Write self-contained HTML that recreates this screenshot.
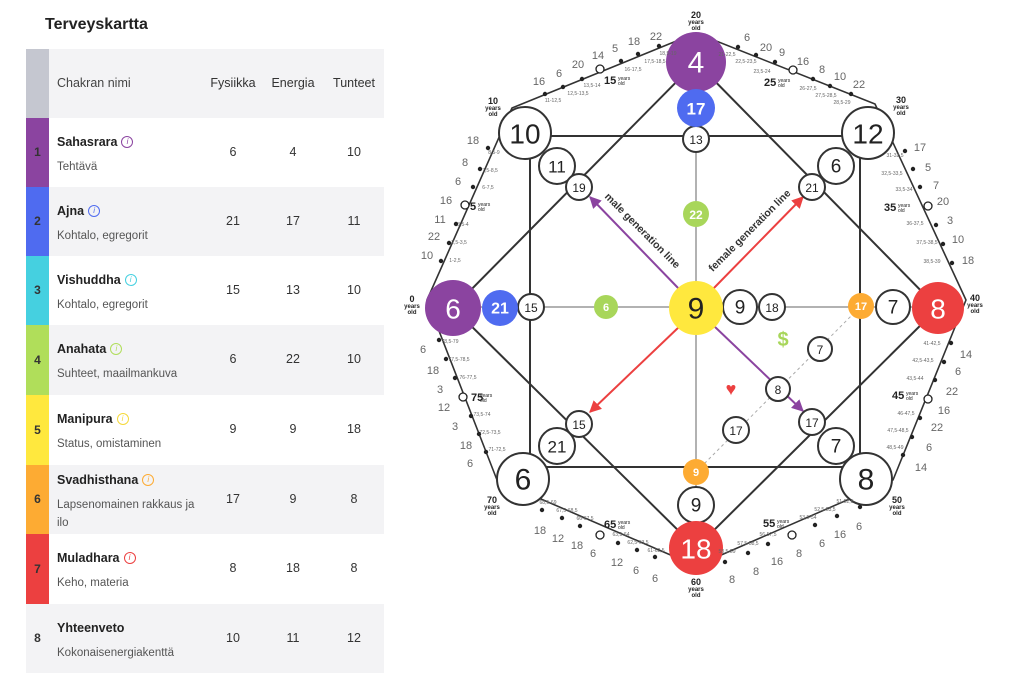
<!DOCTYPE html>
<html><head><meta charset="utf-8">
<style>
body{margin:0;width:1024px;height:682px;background:#fff;font-family:"Liberation Sans",sans-serif;overflow:hidden;position:relative;color:#222}
h1{position:absolute;left:45px;top:16px;margin:0;font-size:16px;font-weight:bold;color:#222}
.row{position:absolute;left:26px;width:358px}
.strip{position:absolute;left:0;top:0;bottom:0;width:23px;font-size:12px;font-weight:bold;text-align:center;color:#333}
.nm{position:absolute;left:31px;font-size:12.5px;font-weight:bold;color:#222}
.sub{position:absolute;left:31px;font-size:11.5px;color:#555;width:150px;line-height:18px}
.c{position:absolute;width:50px;text-align:center;font-size:12.5px;color:#333}
.i{display:inline-block;width:10px;height:10px;border:1.2px solid;border-radius:50%;font-size:8px;font-style:italic;font-weight:normal;text-align:center;line-height:10px;margin-left:4px;vertical-align:2px}
</style></head><body>
<h1>Terveyskartta</h1>

<div class="row" style="top:49px;height:69px;background:#f3f3f5">
<div class="strip" style="background:#c5c7d0"></div>
<div class="nm" style="top:27px;font-weight:normal;color:#444">Chakran nimi</div>
<div class="c" style="left:182px;top:27px">Fysiikka</div>
<div class="c" style="left:242px;top:27px">Energia</div>
<div class="c" style="left:303px;top:27px">Tunteet</div>
</div>

<div class="row" style="top:118px;height:69px;background:#fff">
<div class="strip" style="background:#8b44a0;line-height:69px">1</div>
<div class="nm" style="top:17px">Sahasrara<span class="i" style="color:#8b44a0">i</span></div>
<div class="sub" style="top:40px">Tehtävä</div>
<div class="c" style="left:182px;top:27px">6</div><div class="c" style="left:242px;top:27px">4</div><div class="c" style="left:303px;top:27px">10</div>
</div>

<div class="row" style="top:187px;height:69px;background:#f3f3f5">
<div class="strip" style="background:#4f6bf0;line-height:69px">2</div>
<div class="nm" style="top:17px">Ajna<span class="i" style="color:#4f6bf0">i</span></div>
<div class="sub" style="top:40px">Kohtalo, egregorit</div>
<div class="c" style="left:182px;top:27px">21</div><div class="c" style="left:242px;top:27px">17</div><div class="c" style="left:303px;top:27px">11</div>
</div>

<div class="row" style="top:256px;height:69px;background:#fff">
<div class="strip" style="background:#45d0e0;line-height:69px">3</div>
<div class="nm" style="top:17px">Vishuddha<span class="i" style="color:#45d0e0">i</span></div>
<div class="sub" style="top:40px">Kohtalo, egregorit</div>
<div class="c" style="left:182px;top:27px">15</div><div class="c" style="left:242px;top:27px">13</div><div class="c" style="left:303px;top:27px">10</div>
</div>

<div class="row" style="top:325px;height:70px;background:#f3f3f5">
<div class="strip" style="background:#b0de5a;line-height:70px">4</div>
<div class="nm" style="top:17px">Anahata<span class="i" style="color:#b0de5a">i</span></div>
<div class="sub" style="top:40px">Suhteet, maailmankuva</div>
<div class="c" style="left:182px;top:27px">6</div><div class="c" style="left:242px;top:27px">22</div><div class="c" style="left:303px;top:27px">10</div>
</div>

<div class="row" style="top:395px;height:70px;background:#fff">
<div class="strip" style="background:#ffe83e;line-height:70px">5</div>
<div class="nm" style="top:17px">Manipura<span class="i" style="color:#f5d93a">i</span></div>
<div class="sub" style="top:40px">Status, omistaminen</div>
<div class="c" style="left:182px;top:27px">9</div><div class="c" style="left:242px;top:27px">9</div><div class="c" style="left:303px;top:27px">18</div>
</div>

<div class="row" style="top:465px;height:69px;background:#f3f3f5">
<div class="strip" style="background:#fdab33;line-height:69px">6</div>
<div class="nm" style="top:8px">Svadhisthana<span class="i" style="color:#fdab33">i</span></div>
<div class="sub" style="top:31px">Lapsenomainen rakkaus ja ilo</div>
<div class="c" style="left:182px;top:27px">17</div><div class="c" style="left:242px;top:27px">9</div><div class="c" style="left:303px;top:27px">8</div>
</div>

<div class="row" style="top:534px;height:70px;background:#fff">
<div class="strip" style="background:#ec4040;line-height:70px">7</div>
<div class="nm" style="top:17px">Muladhara<span class="i" style="color:#ec4040">i</span></div>
<div class="sub" style="top:40px">Keho, materia</div>
<div class="c" style="left:182px;top:27px">8</div><div class="c" style="left:242px;top:27px">18</div><div class="c" style="left:303px;top:27px">8</div>
</div>

<div class="row" style="top:604px;height:69px;background:#f3f3f5">
<div class="strip" style="line-height:69px">8</div>
<div class="nm" style="top:17px">Yhteenveto</div>
<div class="sub" style="top:40px">Kokonaisenergiakenttä</div>
<div class="c" style="left:182px;top:27px">10</div><div class="c" style="left:242px;top:27px">11</div><div class="c" style="left:303px;top:27px">12</div>
</div>

<svg width="1024" height="682" style="position:absolute;left:0;top:0" font-family="Liberation Sans, sans-serif">
<defs>
<marker id="ap" viewBox="0 0 10 10" refX="9" refY="5" markerWidth="6" markerHeight="6" orient="auto"><path d="M0,0L10,5L0,10z" fill="#8b44a0"/></marker>
<marker id="ar" viewBox="0 0 10 10" refX="9" refY="5" markerWidth="6" markerHeight="6" orient="auto"><path d="M0,0L10,5L0,10z" fill="#ec4040"/></marker>
</defs>
<polygon points="696,33 875,104 966,300 893,480 696,566 497,480 427,300 512,108" fill="none" stroke="#333" stroke-width="1.6" stroke-linejoin="round"/>
<g stroke="#666" stroke-width="1">
<line x1="696" y1="139" x2="696" y2="505"/>
<line x1="453" y1="307" x2="938" y2="307"/>
</g>
<line x1="696" y1="472" x2="861" y2="306" stroke="#aaa" stroke-width="1" stroke-dasharray="3,3"/>
<g stroke="#333" stroke-width="2" fill="none">
<line x1="525" y1="136" x2="868" y2="136"/>
<line x1="530" y1="136" x2="530" y2="467"/>
<line x1="860" y1="136" x2="860" y2="467"/>
<line x1="523" y1="467" x2="866" y2="467"/>
<polygon points="696,62 938,308 696,548 453,308"/>
</g>
<line x1="680" y1="290" x2="590" y2="197" stroke="#8b44a0" stroke-width="2" marker-end="url(#ap)"/>
<line x1="714" y1="326" x2="803" y2="411" stroke="#8b44a0" stroke-width="2" marker-end="url(#ap)"/>
<line x1="712" y1="290" x2="803" y2="197" stroke="#ec4040" stroke-width="2" marker-end="url(#ar)"/>
<line x1="680" y1="326" x2="590" y2="412" stroke="#ec4040" stroke-width="2" marker-end="url(#ar)"/>
<text transform="translate(640,233) rotate(45)" font-size="10.5" font-weight="bold" fill="#333" text-anchor="middle">male generation line</text>
<text transform="translate(752,233) rotate(-45)" font-size="10.5" font-weight="bold" fill="#333" text-anchor="middle">female generation line</text>

<g stroke="#333" stroke-width="2" fill="#fff">
<circle cx="525" cy="133" r="26"/><circle cx="557" cy="166" r="18"/><circle cx="579" cy="187" r="13"/>
<circle cx="868" cy="133" r="26"/><circle cx="836" cy="166" r="18"/><circle cx="812" cy="187" r="13"/>
<circle cx="696" cy="139" r="13"/>
<circle cx="531" cy="307" r="13"/>
<circle cx="740" cy="307" r="17"/><circle cx="772" cy="307" r="13"/>
<circle cx="893" cy="307" r="17"/>
<circle cx="820" cy="349" r="12"/><circle cx="778" cy="389" r="12"/><circle cx="736" cy="430" r="13"/>
<circle cx="812" cy="422" r="13"/><circle cx="836" cy="446" r="18"/><circle cx="866" cy="479" r="26"/>
<circle cx="579" cy="424" r="13"/><circle cx="557" cy="446" r="18"/><circle cx="523" cy="479" r="26"/>
<circle cx="696" cy="505" r="18"/>
</g>
<circle cx="696" cy="62" r="30" fill="#8b44a0"/>
<circle cx="696" cy="108" r="19" fill="#4f6bf0"/>
<circle cx="696" cy="214" r="13" fill="#a8d65a"/>
<circle cx="453" cy="308" r="28" fill="#8b44a0"/>
<circle cx="500" cy="308" r="18" fill="#4f6bf0"/>
<circle cx="606" cy="307" r="12" fill="#a8d65a"/>
<circle cx="696" cy="308" r="27" fill="#ffe83e"/>
<circle cx="861" cy="306" r="13" fill="#fdab33"/>
<circle cx="938" cy="308" r="26" fill="#ec4040"/>
<circle cx="696" cy="472" r="13" fill="#fdab33"/>
<circle cx="696" cy="548" r="27" fill="#ec4040"/>

<g text-anchor="middle" fill="#222" dominant-baseline="central">
<text x="525" y="134" font-size="28">10</text><text x="557" y="167" font-size="17">11</text><text x="579" y="188" font-size="12">19</text>
<text x="868" y="134" font-size="28">12</text><text x="836" y="167" font-size="19">6</text><text x="812" y="188" font-size="12">21</text>
<text x="696" y="140" font-size="12">13</text>
<text x="531" y="308" font-size="12">15</text>
<text x="740" y="308" font-size="19">9</text><text x="772" y="308" font-size="12">18</text>
<text x="893" y="308" font-size="19">7</text>
<text x="820" y="350" font-size="12">7</text><text x="778" y="390" font-size="12">8</text><text x="736" y="431" font-size="12">17</text>
<text x="812" y="423" font-size="12">17</text><text x="836" y="447" font-size="19">7</text><text x="866" y="480" font-size="30">8</text>
<text x="579" y="425" font-size="12">15</text><text x="557" y="447" font-size="17">21</text><text x="523" y="480" font-size="30">6</text>
<text x="696" y="506" font-size="19">9</text>
<text x="696" y="309" font-size="30">9</text>
</g>
<g text-anchor="middle" fill="#fff" dominant-baseline="central" font-weight="bold">
<text x="696" y="63" font-size="30" font-weight="normal">4</text>
<text x="696" y="109" font-size="17">17</text>
<text x="696" y="215" font-size="12">22</text>
<text x="453" y="309" font-size="28" font-weight="normal">6</text>
<text x="500" y="309" font-size="16">21</text>
<text x="606" y="308" font-size="11">6</text>
<text x="861" y="307" font-size="11">17</text>
<text x="938" y="309" font-size="28" font-weight="normal">8</text>
<text x="696" y="473" font-size="11">9</text>
<text x="696" y="549" font-size="28" font-weight="normal">18</text>
</g>
<text x="783" y="346" font-size="20" fill="#a8d65a" font-weight="bold" text-anchor="middle">$</text>
<text x="731" y="395" font-size="18" fill="#ec4040" text-anchor="middle">♥</text>

<g fill="#222">
<circle cx="545" cy="94" r="2.2"/><circle cx="563" cy="87" r="2.2"/><circle cx="582" cy="79" r="2.2"/><circle cx="621" cy="61" r="2.2"/><circle cx="638" cy="54" r="2.2"/><circle cx="659" cy="46" r="2.2"/>
<circle cx="738" cy="47" r="2.2"/><circle cx="756" cy="55" r="2.2"/><circle cx="775" cy="62" r="2.2"/><circle cx="813" cy="79" r="2.2"/><circle cx="830" cy="86" r="2.2"/><circle cx="851" cy="94" r="2.2"/>
<circle cx="905" cy="151" r="2.2"/><circle cx="913" cy="169" r="2.2"/><circle cx="920" cy="187" r="2.2"/><circle cx="936" cy="225" r="2.2"/><circle cx="943" cy="244" r="2.2"/><circle cx="952" cy="263" r="2.2"/>
<circle cx="951" cy="343" r="2.2"/><circle cx="944" cy="362" r="2.2"/><circle cx="935" cy="380" r="2.2"/><circle cx="920" cy="418" r="2.2"/><circle cx="912" cy="437" r="2.2"/><circle cx="903" cy="455" r="2.2"/>
<circle cx="860" cy="507" r="2.2"/><circle cx="837" cy="516" r="2.2"/><circle cx="815" cy="525" r="2.2"/><circle cx="768" cy="544" r="2.2"/><circle cx="748" cy="553" r="2.2"/><circle cx="725" cy="562" r="2.2"/>
<circle cx="542" cy="510" r="2.2"/><circle cx="562" cy="518" r="2.2"/><circle cx="580" cy="526" r="2.2"/><circle cx="618" cy="543" r="2.2"/><circle cx="637" cy="550" r="2.2"/><circle cx="655" cy="557" r="2.2"/>
<circle cx="439" cy="340" r="2.2"/><circle cx="446" cy="359" r="2.2"/><circle cx="455" cy="378" r="2.2"/><circle cx="471" cy="416" r="2.2"/><circle cx="479" cy="434" r="2.2"/><circle cx="486" cy="452" r="2.2"/>
<circle cx="441" cy="261" r="2.2"/><circle cx="449" cy="243" r="2.2"/><circle cx="456" cy="224" r="2.2"/><circle cx="473" cy="187" r="2.2"/><circle cx="480" cy="169" r="2.2"/><circle cx="488" cy="148" r="2.2"/>
</g>
<g fill="#fff" stroke="#222" stroke-width="1.3">
<circle cx="600" cy="69" r="4"/><circle cx="793" cy="70" r="4"/><circle cx="928" cy="206" r="4"/><circle cx="928" cy="399" r="4"/><circle cx="792" cy="535" r="4"/><circle cx="600" cy="535" r="4"/><circle cx="463" cy="397" r="4"/><circle cx="465" cy="205" r="4"/>
</g>

<g font-size="11" fill="#666" text-anchor="middle" dominant-baseline="central">
<text x="539" y="82">16</text><text x="559" y="74">6</text><text x="578" y="65">20</text><text x="598" y="56">14</text><text x="615" y="49">5</text><text x="634" y="42">18</text><text x="656" y="37">22</text>
<text x="747" y="38">6</text><text x="766" y="48">20</text><text x="782" y="53">9</text><text x="803" y="62">16</text><text x="822" y="70">8</text><text x="840" y="77">10</text><text x="859" y="85">22</text>
<text x="920" y="148">17</text><text x="928" y="168">5</text><text x="936" y="186">7</text><text x="943" y="202">20</text><text x="950" y="221">3</text><text x="958" y="240">10</text><text x="968" y="261">18</text>
<text x="966" y="355">14</text><text x="958" y="372">6</text><text x="952" y="392">22</text><text x="944" y="411">16</text><text x="937" y="428">22</text><text x="929" y="448">6</text><text x="921" y="468">14</text>
<text x="859" y="527">6</text><text x="840" y="535">16</text><text x="822" y="544">6</text><text x="799" y="554">8</text><text x="777" y="562">16</text><text x="756" y="572">8</text><text x="732" y="580">8</text>
<text x="540" y="531">18</text><text x="558" y="539">12</text><text x="577" y="546">18</text><text x="593" y="554">6</text><text x="617" y="563">12</text><text x="636" y="571">6</text><text x="655" y="579">6</text>
<text x="423" y="350">6</text><text x="433" y="371">18</text><text x="440" y="390">3</text><text x="444" y="408">12</text><text x="455" y="427">3</text><text x="466" y="446">18</text><text x="470" y="464">6</text>
<text x="427" y="256">10</text><text x="434" y="237">22</text><text x="440" y="220">11</text><text x="446" y="201">16</text><text x="458" y="182">6</text><text x="465" y="163">8</text><text x="473" y="141">18</text>
</g>
<g font-size="5" fill="#666" text-anchor="middle" dominant-baseline="central">
<text x="553" y="101">11-12,5</text><text x="578" y="94">12,5-13,5</text><text x="592" y="86">13,5-14</text><text x="633" y="70">16-17,5</text><text x="655" y="62">17,5-18,5</text><text x="668" y="54">18,5-19</text>
<text x="727" y="55">21-22,5</text><text x="746" y="62">22,5-23,5</text><text x="762" y="72">23,5-24</text><text x="808" y="89">26-27,5</text><text x="826" y="96">27,5-28,5</text><text x="842" y="103">28,5-29</text>
<text x="895" y="156">31-32,5</text><text x="892" y="174">32,5-33,5</text><text x="904" y="190">33,5-34</text><text x="915" y="224">36-37,5</text><text x="927" y="243">37,5-38,5</text><text x="932" y="262">38,5-39</text>
<text x="932" y="344">41-42,5</text><text x="923" y="361">42,5-43,5</text><text x="915" y="379">43,5-44</text><text x="906" y="414">46-47,5</text><text x="898" y="431">47,5-48,5</text><text x="895" y="448">48,5-49</text>
<text x="845" y="502">51-52,5</text><text x="825" y="510">52,5-53,5</text><text x="808" y="518">53,5-54</text><text x="768" y="535">56-57,5</text><text x="748" y="544">57,5-58,5</text><text x="727" y="552">58,5-59</text>
<text x="548" y="503">68,5-69</text><text x="567" y="511">67,5-68,5</text><text x="585" y="519">66-67,5</text><text x="621" y="535">63,5-64</text><text x="638" y="543">62,5-63,5</text><text x="656" y="551">61-62,5</text>
<text x="450" y="342">78,5-79</text><text x="459" y="360">77,5-78,5</text><text x="468" y="378">76-77,5</text><text x="482" y="415">73,5-74</text><text x="490" y="433">72,5-73,5</text><text x="497" y="450">71-72,5</text>
<text x="455" y="261">1-2,5</text><text x="459" y="243">2,5-3,5</text><text x="463" y="225">3,5-4</text><text x="488" y="188">6-7,5</text><text x="490" y="171">7,5-8,5</text><text x="494" y="153">8,5-9</text>
</g>
<g font-size="11" fill="#222" font-weight="bold">
<text x="604" y="84">15</text><text x="764" y="86">25</text><text x="884" y="211">35</text><text x="892" y="399">45</text><text x="763" y="527">55</text><text x="604" y="528">65</text><text x="471" y="401">75</text><text x="470" y="210">5</text>
</g>
<g font-size="5" fill="#222">
<text x="618" y="80">years</text><text x="618" y="85">old</text>
<text x="778" y="82">years</text><text x="778" y="87">old</text>
<text x="898" y="207">years</text><text x="898" y="212">old</text>
<text x="906" y="395">years</text><text x="906" y="400">old</text>
<text x="777" y="523">years</text><text x="777" y="528">old</text>
<text x="618" y="524">years</text><text x="618" y="529">old</text>
<text x="480" y="397">years</text><text x="480" y="402">old</text>
<text x="478" y="206">years</text><text x="478" y="211">old</text>
</g>
<g fill="#222" text-anchor="middle" font-weight="bold">
<g font-size="9"><text x="696" y="18">20</text><text x="901" y="103">30</text><text x="975" y="301">40</text><text x="897" y="503">50</text><text x="696" y="585">60</text><text x="492" y="503">70</text><text x="412" y="302">0</text><text x="493" y="104">10</text></g>
<g font-size="6"><text x="696" y="24">years</text><text x="696" y="30">old</text>
<text x="901" y="109">years</text><text x="901" y="115">old</text>
<text x="975" y="307">years</text><text x="975" y="313">old</text>
<text x="897" y="509">years</text><text x="897" y="515">old</text>
<text x="696" y="591">years</text><text x="696" y="597">old</text>
<text x="492" y="509">years</text><text x="492" y="515">old</text>
<text x="412" y="308">years</text><text x="412" y="314">old</text>
<text x="493" y="110">years</text><text x="493" y="116">old</text></g>
</g>
</svg>
</body></html>
